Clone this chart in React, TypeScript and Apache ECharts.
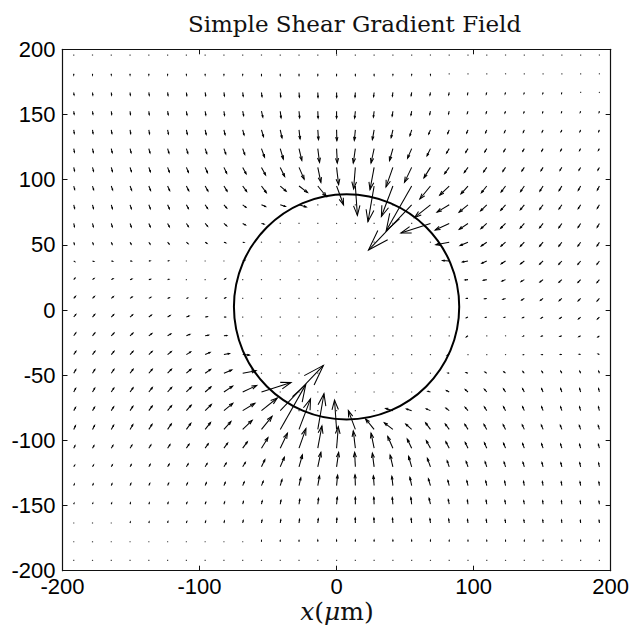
import React, { useEffect, useRef } from "react";
import * as echarts from "echarts";

// Grid of quiver sample points (data units, micrometres)
const X_GRID = [-191.8, -178.1, -164.4, -150.7, -137.0, -123.3, -109.6, -95.9, -82.2, -68.5, -54.8, -41.1, -27.4, -13.7, 0, 13.7, 27.4, 41.1, 54.8, 68.5, 82.2, 95.9, 109.6, 123.3, 137.0, 150.7, 164.4, 178.1, 191.8];
const Y_GRID = [195.6, 181.2, 166.9, 152.5, 138.2, 123.8, 109.4, 95.1, 80.7, 66.4, 52.0, 37.6, 23.3, 8.9, -5.4, -19.8, -34.2, -48.5, -62.9, -77.2, -91.6, -106.0, -120.3, -134.7, -149.0, -163.4, -177.8, -192.1];

// Gradient components (quiver units), one row per Y_GRID entry, one column per X_GRID entry
const U_ROWS = [
  [0,0,0,0,0,0,0,0,0,0,0,0,0,0,0,0,0,0,0,0,0,0,0,0,0,0,0,0,0],
  [0,0,0,0,0,0,0,0,0,0,0,0,0,0,0,0,0,0,0,0,0,0,0,0,0,0,0,0,0],
  [0.3,0.3,0.3,0.3,0.4,0.4,0.4,0.5,0.5,0.5,0.5,0.5,0.4,0.2,0.1,-0.3,-0.5,-0.5,-0.5,-0.5,-0.5,-0.5,-0.5,-0.4,-0.3,-0.3,-0.3,-0.3,-0.3],
  [0.4,0.4,0.4,0.4,0.4,0.6,0.6,0.6,0.6,0.9,1.3,0.8,0.6,0.3,0,-0.7,-0.7,-0.7,-0.7,-0.7,-0.7,-0.7,-0.6,-0.6,-0.5,-0.5,-0.4,-0.4,-0.3],
  [0.5,0.5,0.6,0.6,0.7,0.8,0.9,1.0,1.1,1.3,2.0,1.7,1.0,0.7,0.3,-1.0,-1.7,-1.7,-1.7,-1.7,-1.5,-1.3,-1.2,-1.1,-1.0,-0.9,-0.8,-0.7,-0.7],
  [0.7,0.8,0.9,1.0,1.1,1.3,1.4,1.6,1.8,2.0,3.0,3.0,2.7,1.7,0.7,-2.0,-3.0,-3.3,-4.0,-3.3,-2.6,-2.2,-1.9,-1.7,-1.5,-1.3,-1.2,-1.1,-1.0],
  [0.8,1.0,1.1,1.3,1.5,1.7,2.0,2.3,2.7,3.3,4.0,4.3,5.0,3.0,2.0,-1.7,-4.0,-6.7,-7.0,-6.3,-4.5,-3.6,-3.0,-2.6,-2.3,-2.0,-1.8,-1.6,-1.4],
  [0.9,1.1,1.3,1.5,1.7,2.0,2.3,2.7,3.1,3.8,4.7,5.7,8.3,8.3,6.8,2.0,-6.0,-11.2,-24.8,-10.3,-9.2,-6.8,-5.2,-4.3,-3.6,-3.1,-2.7,-2.3,-2.0],
  [0.85,0.95,1.1,1.25,1.45,1.7,2.0,2.35,2.75,3.2,4.0,5.0,7.0,0,0,0,0,0,-42.0,-15.35,-11.85,-8.65,-6.0,-4.65,-3.85,-3.25,-2.75,-2.35,-2.05],
  [0.7,0.8,1.0,1.2,1.45,1.7,2.0,2.35,2.65,2.65,2.5,0,0,0,0,0,0,0,0,-28.75,-13.65,-8.5,-5.65,-4.75,-3.95,-3.35,-2.9,-2.5,-2.15],
  [0.6,0.7,0.85,1.05,1.2,1.4,1.6,1.7,1.75,1.2,0,0,0,0,0,0,0,0,0,0,-13.0,-7.65,-5.35,-4.4,-3.75,-3.3,-2.9,-2.55,-2.25],
  [1.0,1.2,1.3,1.3,1.2,1.0,0.8,0.7,0.8,2.0,0,0,0,0,0,0,0,0,0,0,-6.5,-5.35,-4.75,-4.15,-3.6,-3.25,-2.9,-2.65,-2.35],
  [1.2,1.5,1.7,1.8,1.6,1.2,0.9,0.8,1.5,0,0,0,0,0,0,0,0,0,0,0,0,-2.75,-3.25,-3.4,-3.15,-3.0,-2.75,-2.6,-2.3],
  [1.7,1.9,2.0,2.0,1.9,1.6,1.2,1.1,1.6,0,0,0,0,0,0,0,0,0,0,0,0,-1.4,-2.0,-2.5,-2.5,-2.5,-2.5,-2.35,-2.2],
  [2.0,2.2,2.35,2.5,2.5,2.5,2.5,2.0,1.4,0,0,0,0,0,0,0,0,0,0,0,0,-1.6,-1.1,-1.2,-1.6,-1.9,-2.0,-2.0,-1.9],
  [2.0,2.3,2.6,2.75,3.0,3.15,3.4,3.25,2.75,0,0,0,0,0,0,0,0,0,0,0,0,-1.5,-0.8,-0.9,-1.2,-1.6,-1.8,-1.7,-1.5],
  [2.1,2.35,2.65,2.9,3.25,3.6,4.15,4.75,5.35,6.5,0,0,0,0,0,0,0,0,0,0,-2.0,-0.8,-0.7,-0.8,-1.0,-1.2,-1.3,-1.3,-1.2],
  [2.0,2.25,2.55,2.9,3.3,3.75,4.4,5.35,7.65,13.0,0,0,0,0,0,0,0,0,0,0,-1.2,-1.75,-1.7,-1.6,-1.4,-1.2,-1.05,-0.85,-0.7],
  [1.9,2.15,2.5,2.9,3.35,3.95,4.75,5.65,8.5,13.65,28.75,0,0,0,0,0,0,0,0,-2.5,-2.65,-2.65,-2.35,-2.0,-1.7,-1.45,-1.2,-1.0,-0.8],
  [1.8,2.05,2.35,2.75,3.25,3.85,4.65,6.0,8.65,11.85,15.35,42.0,0,0,0,0,0,-7.0,-5.0,-4.0,-3.2,-2.75,-2.35,-2.0,-1.7,-1.45,-1.25,-1.1,-0.95],
  [1.7,2.0,2.3,2.7,3.1,3.6,4.3,5.2,6.8,9.2,10.3,24.8,11.2,6.0,-2.0,-6.8,-8.3,-8.3,-5.7,-4.7,-3.8,-3.1,-2.7,-2.3,-2.0,-1.7,-1.5,-1.3,-1.1],
  [1.2,1.4,1.6,1.8,2.0,2.3,2.6,3.0,3.6,4.5,6.3,7.0,6.7,4.0,1.7,-2.0,-3.0,-5.0,-4.3,-4.0,-3.3,-2.7,-2.3,-2.0,-1.7,-1.5,-1.3,-1.1,-1.0],
  [0.9,1.0,1.1,1.2,1.3,1.5,1.7,1.9,2.2,2.6,3.3,4.0,3.3,3.0,2.0,-0.7,-1.7,-2.7,-3.0,-3.0,-2.0,-1.8,-1.6,-1.4,-1.3,-1.1,-1.0,-0.9,-0.8],
  [0.6,0.7,0.7,0.8,0.9,1.0,1.1,1.2,1.3,1.5,1.7,1.7,1.7,1.7,1.0,-0.3,-0.7,-1.0,-1.7,-2.0,-1.3,-1.1,-1.0,-0.9,-0.8,-0.7,-0.6,-0.6,-0.5],
  [0.3,0.3,0.4,0.4,0.5,0.5,0.6,0.6,0.7,0.7,0.7,0.7,0.7,0.7,0.7,0,-0.3,-0.6,-0.8,-1.3,-0.9,-0.6,-0.6,-0.6,-0.6,-0.4,-0.4,-0.4,-0.4],
  [0.2,0.3,0.3,0.3,0.3,0.3,0.4,0.5,0.5,0.5,0.5,0.5,0.5,0.5,0.3,-0.1,-0.2,-0.4,-0.5,-0.5,-0.5,-0.5,-0.5,-0.4,-0.4,-0.3,-0.3,-0.3,-0.3],
  [0,0,0,0,0,0,0,0,0,0,0,0,0,0,0,0,0,0,0,0,0,0,0,0,0,0,0,0,0],
  [0,0,0,0,0,0,0,0,0,0,0,0,0,0,0,0,0,0,0,0,0,0,0,0,0,0,0,0,0],
];

const V_ROWS = [
  [-0.6,-0.6,-0.6,-0.6,-0.6,-0.6,-0.6,-0.6,-0.6,-0.6,-0.6,-0.6,-0.6,-0.6,-0.6,-0.6,-0.6,-0.4,-0.4,-0.4,-0.4,-0.4,-0.4,-0.4,-0.4,-0.4,-0.4,-0.4,-0.4],
  [-1.3,-1.3,-1.3,-1.3,-1.3,-1.3,-1.3,-1.3,-1.3,-1.3,-1.6,-1.6,-1.6,-1.6,-1.6,-1.6,-1.6,-1.2,-1.2,-1.2,-0.8,-0.8,-0.8,-0.8,-0.8,-0.8,-0.8,-0.8,-0.8],
  [-2.5,-2.6,-2.7,-2.8,-2.9,-3.0,-3.1,-3.3,-3.5,-3.8,-4.2,-4.5,-4.8,-5.0,-5.0,-4.7,-4.2,-3.7,-3.2,-2.8,-2.4,-2.0,-1.8,-1.5,-1.3,-1.2,-1.0,-0.9,-0.8],
  [-3.0,-3.0,-3.2,-3.3,-3.4,-3.5,-3.7,-3.9,-4.1,-4.6,-6.0,-6.7,-6.7,-7.0,-7.0,-7.0,-6.0,-5.0,-4.0,-3.3,-2.7,-2.3,-2.0,-1.8,-1.6,-1.4,-1.3,-1.2,-1.1],
  [-3.5,-3.6,-3.7,-3.8,-4.0,-4.2,-4.4,-4.6,-4.8,-5.2,-7.0,-8.3,-9.3,-10.0,-11.0,-10.7,-10.0,-8.0,-6.0,-4.3,-3.7,-3.2,-2.9,-2.6,-2.4,-2.2,-2.0,-1.8,-1.7],
  [-3.6,-3.8,-4.0,-4.1,-4.3,-4.5,-4.7,-5.0,-5.4,-6.0,-8.7,-10.7,-12.0,-14.0,-14.7,-14.7,-14.7,-12.3,-9.7,-7.3,-4.5,-3.8,-3.3,-2.9,-2.6,-2.4,-2.2,-2.0,-1.8],
  [-3.6,-3.8,-4.0,-4.2,-4.4,-4.7,-5.0,-5.4,-5.9,-6.5,-7.7,-9.3,-12.0,-15.3,-17.7,-22.0,-22.7,-20.0,-15.3,-10.7,-6.5,-5.2,-4.5,-4.0,-3.6,-3.3,-3.0,-2.8,-2.6],
  [-3.5,-3.8,-4.0,-4.2,-4.4,-4.6,-4.8,-5.0,-5.2,-5.5,-6.7,-5.3,-6.7,-10.7,-19.2,-30.0,-36.5,-31.2,-45.8,-13.3,-9.3,-8.0,-6.9,-6.1,-5.6,-5.1,-4.7,-4.3,-4.0],
  [-3.6,-3.75,-3.8,-3.85,-3.9,-3.9,-3.9,-3.75,-3.35,-2.55,-1.8,-1.7,-2.3,0,0,0,0,0,-46.3,-12.9,-7.5,-7.5,-6.25,-5.55,-5.05,-4.6,-4.25,-3.9,-3.55],
  [-3.3,-3.35,-3.4,-3.45,-3.4,-3.3,-3.15,-2.9,-2.5,-1.5,-0.65,0,0,0,0,0,0,0,0,-9.75,-6.75,-6.0,-5.25,-4.9,-4.65,-4.45,-4.25,-4.05,-3.85],
  [-2.0,-2.0,-2.0,-1.95,-1.85,-1.7,-1.45,-1.1,-0.65,-0.2,0,0,0,0,0,0,0,0,0,0,-2.6,-3.35,-3.9,-4.05,-4.1,-4.0,-3.95,-3.85,-3.75],
  [-0.7,-0.5,-0.3,-0.1,0.1,0.2,0.3,0.3,0.5,0.7,0,0,0,0,0,0,0,0,0,0,0.5,-1.0,-2.25,-2.8,-3.0,-3.2,-3.3,-3.35,-3.35],
  [1.5,1.2,0.9,0.6,0.4,0.3,0.3,0.4,1.0,0,0,0,0,0,0,0,0,0,0,0,0,-0.3,-0.65,-1.5,-2.0,-2.4,-2.65,-2.85,-2.95],
  [2.1,2.0,1.8,1.4,1.1,0.7,0.4,0.4,0.7,0,0,0,0,0,0,0,0,0,0,0,0,0,-0.4,-1.0,-1.65,-2.0,-2.25,-2.5,-2.65],
  [2.6,2.65,2.5,2.25,2.0,1.65,1.0,0.4,0,0,0,0,0,0,0,0,0,0,0,0,0,-0.7,-0.4,-0.4,-0.7,-1.1,-1.4,-1.8,-2.0],
  [2.9,2.95,2.85,2.65,2.4,2.0,1.5,0.65,0.3,0,0,0,0,0,0,0,0,0,0,0,0,-1.0,-0.4,-0.3,-0.3,-0.4,-0.6,-0.9,-1.2],
  [3.3,3.35,3.35,3.3,3.2,3.0,2.8,2.25,1.0,-0.5,0,0,0,0,0,0,0,0,0,0,-0.7,-0.5,-0.3,-0.3,-0.2,-0.1,0.1,0.3,0.5],
  [3.6,3.75,3.85,3.95,4.0,4.1,4.05,3.9,3.35,2.6,0,0,0,0,0,0,0,0,0,0,0.2,0.65,1.1,1.45,1.7,1.85,1.95,2.0,2.0],
  [3.7,3.85,4.05,4.25,4.45,4.65,4.9,5.25,6.0,6.75,9.75,0,0,0,0,0,0,0,0,0.65,1.5,2.5,2.9,3.15,3.3,3.4,3.45,3.4,3.35],
  [3.3,3.55,3.9,4.25,4.6,5.05,5.55,6.25,7.5,7.5,12.9,46.3,0,0,0,0,0,2.3,1.7,1.8,2.55,3.35,3.75,3.9,3.9,3.9,3.85,3.8,3.75],
  [3.7,4.0,4.3,4.7,5.1,5.6,6.1,6.9,8.0,9.3,13.3,45.8,31.2,36.5,30.0,19.2,10.7,6.7,5.3,6.7,5.5,5.2,5.0,4.8,4.6,4.4,4.2,4.0,3.8],
  [2.4,2.6,2.8,3.0,3.3,3.6,4.0,4.5,5.2,6.5,10.7,15.3,20.0,22.7,22.0,17.7,15.3,12.0,9.3,7.7,6.5,5.9,5.4,5.0,4.7,4.4,4.2,4.0,3.8],
  [1.6,1.8,2.0,2.2,2.4,2.6,2.9,3.3,3.8,4.5,7.3,9.7,12.3,14.7,14.7,14.7,14.0,12.0,10.7,8.7,6.0,5.4,5.0,4.7,4.5,4.3,4.1,4.0,3.8],
  [1.5,1.7,1.8,2.0,2.2,2.4,2.6,2.9,3.2,3.7,4.3,6.0,8.0,10.0,10.7,11.0,10.0,9.3,8.3,7.0,5.2,4.8,4.6,4.4,4.2,4.0,3.8,3.7,3.6],
  [1.0,1.1,1.2,1.3,1.4,1.6,1.8,2.0,2.3,2.7,3.3,4.0,5.0,6.0,7.0,7.0,7.0,6.7,6.7,6.0,4.6,4.1,3.9,3.7,3.5,3.4,3.3,3.2,3.0],
  [0.7,0.8,0.9,1.0,1.2,1.3,1.5,1.8,2.0,2.4,2.8,3.2,3.7,4.2,4.7,5.0,5.0,4.8,4.5,4.2,3.8,3.5,3.3,3.1,3.0,2.9,2.8,2.7,2.6],
  [0.7,0.8,0.8,0.8,0.8,0.8,0.8,0.8,0.8,0.8,1.2,1.2,1.2,1.6,1.6,1.6,1.6,1.6,1.6,1.6,1.3,1.3,1.3,1.3,1.3,1.3,1.3,1.3,1.3],
  [0.4,0.4,0.4,0.4,0.4,0.4,0.4,0.4,0.4,0.4,0.4,0.4,0.4,0.6,0.6,0.6,0.6,0.6,0.6,0.6,0.6,0.6,0.6,0.6,0.6,0.6,0.6,0.6,0.6],
];

// quiver auto-scale factor (data units per gradient unit)
const ARROW_SCALE = 0.75;

// cell boundary: centre and radii in data units
const CELL = [7.3, 2.4, 82.2, 86.4];

const X_TICKS = { min: -200, max: 200, interval: 100 };
const Y_TICKS = { min: -200, max: 200, interval: 50 };

const TITLE = "Simple Shear Gradient Field";

export default function App() {
  const ref = useRef<HTMLDivElement | null>(null);

  useEffect(() => {
    if (!ref.current) return;
    const chart = echarts.init(ref.current, undefined, { renderer: "svg" });

    const arrowData: number[][] = [];
    for (let j = 0; j < Y_GRID.length; j++) {
      for (let i = 0; i < X_GRID.length; i++) {
        arrowData.push([X_GRID[i], Y_GRID[j], U_ROWS[j][i], V_ROWS[j][i]]);
      }
    }

    const axisColor = "#111";
    const arrowColor = "#000";

    const option: any = {
      animation: false,
      backgroundColor: "#ffffff",
      grid: { left: 62.5, top: 49.3, width: 548.5, height: 521.4, show: false },
      xAxis: [
        {
          type: "value", position: "bottom", min: X_TICKS.min, max: X_TICKS.max, interval: X_TICKS.interval,
          axisLine: { show: true, onZero: false, lineStyle: { color: axisColor, width: 1.2 } },
          axisTick: { show: true, inside: true, length: 5, lineStyle: { color: axisColor, width: 1 } },
          axisLabel: { show: true, showMinLabel: true, showMaxLabel: true, margin: 5, fontSize: 22, fontFamily: "Liberation Sans", color: "#000" },
          splitLine: { show: false },
        },
        {
          type: "value", position: "top", min: X_TICKS.min, max: X_TICKS.max, interval: X_TICKS.interval,
          axisLine: { show: true, onZero: false, lineStyle: { color: axisColor, width: 1.2 } },
          axisTick: { show: true, inside: true, length: 5, lineStyle: { color: axisColor, width: 1 } },
          axisLabel: { show: false },
          splitLine: { show: false },
        },
      ],
      yAxis: [
        {
          type: "value", position: "left", min: Y_TICKS.min, max: Y_TICKS.max, interval: Y_TICKS.interval,
          axisLine: { show: true, onZero: false, lineStyle: { color: axisColor, width: 1.2 } },
          axisTick: { show: true, inside: true, length: 5, lineStyle: { color: axisColor, width: 1 } },
          axisLabel: { show: true, showMinLabel: true, showMaxLabel: true, margin: 7, fontSize: 22, fontFamily: "Liberation Sans", color: "#000" },
          splitLine: { show: false },
        },
        {
          type: "value", position: "right", min: Y_TICKS.min, max: Y_TICKS.max, interval: Y_TICKS.interval,
          axisLine: { show: true, onZero: false, lineStyle: { color: axisColor, width: 1.2 } },
          axisTick: { show: true, inside: true, length: 5, lineStyle: { color: axisColor, width: 1 } },
          axisLabel: { show: false },
          splitLine: { show: false },
        },
      ],
      graphic: [
        {
          type: "text", x: 354.5, y: 23.5, silent: true,
          style: { text: TITLE, fontFamily: "DejaVu Serif", fontSize: 23, fill: "#111", textAlign: "center", textVerticalAlign: "middle" },
        },
        {
          type: "text", x: 337, y: 611, silent: true,
          style: {
            text: "{i|x}{n|(}{i|μ}{n|m)}",
            textAlign: "center", textVerticalAlign: "middle",
            rich: {
              i: { fontFamily: "DejaVu Serif", fontStyle: "italic", fontSize: 25, fill: "#111", color: "#111" },
              n: { fontFamily: "DejaVu Serif", fontSize: 25, fill: "#111", color: "#111" },
            },
          },
        },
      ],
      series: [
        {
          type: "custom", coordinateSystem: "cartesian2d", xAxisIndex: 0, yAxisIndex: 0,
          silent: true, clip: false, data: arrowData, encode: { x: 0, y: 1 },
          renderItem: (params: any, api: any) => {
            const x = api.value(0), y = api.value(1), u = api.value(2), v = api.value(3);
            const p0 = api.coord([x, y]);
            const p1 = api.coord([x + ARROW_SCALE * u, y + ARROW_SCALE * v]);
            const dx = p1[0] - p0[0], dy = p1[1] - p0[1];
            const L = Math.hypot(dx, dy);
            if (L < 1) {
              return { type: "rect", shape: { x: p0[0] - 0.6, y: p0[1] - 0.6, width: 1.2, height: 1.2 }, style: { fill: "#444" } };
            }
            const a = 0.33, b = 0.33;
            const hl = [p1[0] - a * (dx + b * dy), p1[1] - a * (dy - b * dx)];
            const hr = [p1[0] - a * (dx - b * dy), p1[1] - a * (dy + b * dx)];
            return {
              type: "group",
              children: [
                { type: "line", shape: { x1: p0[0], y1: p0[1], x2: p1[0], y2: p1[1] }, style: { stroke: arrowColor, lineWidth: 1.05 } },
                { type: "polyline", shape: { points: [hl, p1, hr] }, style: { stroke: arrowColor, fill: "none", lineWidth: 1.05 } },
              ],
            };
          },
        },
        {
          type: "custom", coordinateSystem: "cartesian2d", xAxisIndex: 0, yAxisIndex: 0,
          silent: true, clip: false, data: [CELL], encode: { x: 0, y: 1 },
          renderItem: (params: any, api: any) => {
            const c = api.coord([api.value(0), api.value(1)]);
            const s = api.size([api.value(2), api.value(3)]);
            return {
              type: "ellipse",
              shape: { cx: c[0], cy: c[1], rx: s[0], ry: s[1] },
              style: { fill: "none", stroke: "#000", lineWidth: 2 },
            };
          },
        },
      ],
    };

    chart.setOption(option);
    return () => chart.dispose();
  }, []);

  return (
    <div
      ref={ref}
      style={{ position: "fixed", left: 0, top: 0, width: 632, height: 630, background: "#fff" }}
    />
  );
}
